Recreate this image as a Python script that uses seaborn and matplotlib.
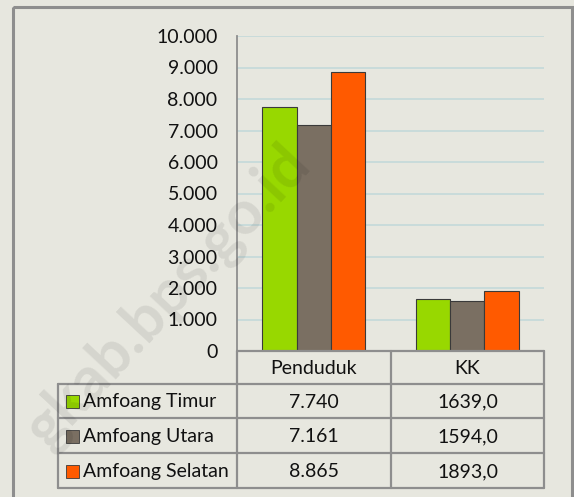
import pandas as pd
import matplotlib.pyplot as plt
import seaborn as sns
from matplotlib.patches import Rectangle

# Data
kategori = ['Penduduk', 'KK']
kecamatan = ['Amfoang Timur', 'Amfoang Utara', 'Amfoang Selatan']
penduduk = [7740, 7161, 8865]
kk = [1639, 1594, 1893]
label_penduduk = ['7.740', '7.161', '8.865']
label_kk = ['1639,0', '1594,0', '1893,0']
yticks = [0, 1000, 2000, 3000, 4000, 5000, 6000, 7000, 8000, 9000, 10000]
warna = ['#98d800', '#7a6f62', '#ff5a00']

df = pd.DataFrame({
    'Kategori': kategori * 3,
    'Kecamatan': [k for k in kecamatan for _ in kategori],
    'Nilai': [v for pair in zip(penduduk, kk) for v in pair],
})

sns.set_theme(style='white')
plt.rcParams['font.family'] = ['Lato', 'DejaVu Sans']

bg = '#e7e7df'
garis = '#8e8e8e'
teks = '#111111'
fs = 14
W, H = 574, 497
fig = plt.figure(figsize=(W / 100, H / 100), dpi=100, facecolor=bg)

# overlay in pixel coordinates for the frame and data table
ov = fig.add_axes([0, 0, 1, 1], zorder=0)
ov.set_xlim(0, W)
ov.set_ylim(H, 0)
ov.axis('off')
ov.add_patch(Rectangle((13, 7), 559, 500, fill=False, edgecolor=garis, lw=2.2))

# bar chart
x0, x1, ytop, ybot = 237, 544, 36, 351
ax = fig.add_axes([x0 / W, 1 - ybot / H, (x1 - x0) / W, (ybot - ytop) / H], zorder=1)
ax.set_facecolor('none')
sns.barplot(data=df, x='Kategori', y='Nilai', hue='Kecamatan', order=kategori,
            hue_order=kecamatan, palette=warna, saturation=1, width=0.67, ax=ax,
            edgecolor='#3a3a3a', linewidth=0.8, legend=False, zorder=3)
ax.set_ylim(0, 10000)
ax.set_xlim(-0.5, 1.5)
ax.set_yticks(yticks)
ax.set_yticklabels([f'{v:,}'.replace(',', '.') for v in yticks], fontsize=fs, color=teks)
ax.set_xticks([])
ax.set_xlabel('')
ax.set_ylabel('')
ax.tick_params(axis='y', length=0, pad=14)
ax.grid(axis='y', color='#c6dada', lw=1.3, zorder=0)
for s in ['top', 'right', 'bottom']:
    ax.spines[s].set_visible(False)
ax.spines['left'].set_color(garis)
ax.spines['left'].set_linewidth(1.3)

# data table
tl = 58
cols = [x0, 391, x1]
rows = [351, 384, 418, 453, 488]
lw = 1.6
ov2 = fig.add_axes([0, 0, 1, 1], zorder=2)
ov2.set_xlim(0, W)
ov2.set_ylim(H, 0)
ov2.axis('off')
ov2.plot([x0, x1], [rows[0], rows[0]], color=garis, lw=lw)
for r in rows[1:]:
    ov2.plot([tl, x1], [r, r], color=garis, lw=lw)
ov2.plot([tl, tl], [rows[1], rows[-1]], color=garis, lw=lw)
for c in cols:
    ov2.plot([c, c], [rows[0], rows[-1]], color=garis, lw=lw)

for j, kat in enumerate(kategori):
    ov2.text((cols[j] + cols[j + 1]) / 2, (rows[0] + rows[1]) / 2 + 1, kat,
             ha='center', va='center', fontsize=fs, color=teks)
for i, nama in enumerate(kecamatan):
    yc = (rows[i + 1] + rows[i + 2]) / 2
    ov2.add_patch(Rectangle((66, yc - 6), 13, 13, facecolor=warna[i], edgecolor='#3a3a3a', lw=0.6))
    ov2.text(83, yc + 1, nama, ha='left', va='center', fontsize=fs, color=teks)
    ov2.text((cols[0] + cols[1]) / 2, yc + 1, label_penduduk[i], ha='center', va='center',
             fontsize=fs, color=teks)
    ov2.text((cols[1] + cols[2]) / 2, yc + 1, label_kk[i], ha='center', va='center',
             fontsize=fs, color=teks)

# watermark (visible part)
ov2.text(168, 296, 'gkab.bps.go.id', rotation=47, fontsize=44, fontweight='bold',
         color='#000000', alpha=0.08, ha='center', va='center')

fig.savefig('out.png', dpi=100, facecolor=bg)
